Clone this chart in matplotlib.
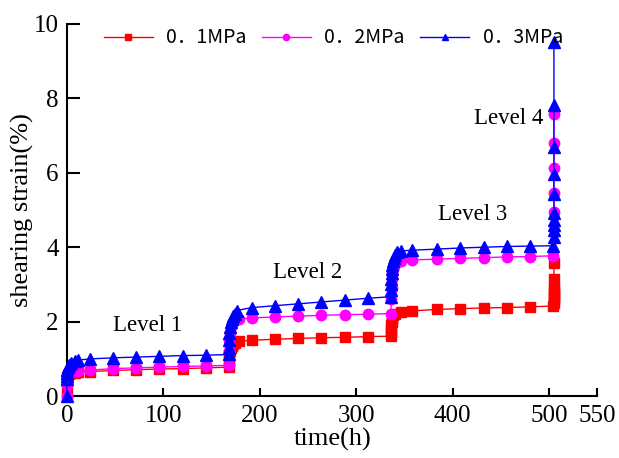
import matplotlib
matplotlib.use("Agg")
import matplotlib.pyplot as plt

plt.rcParams['font.family'] = ['Liberation Serif', 'DejaVu Serif']

# ---- 0.1MPa (red) ----
t1 = [0, 0, 0.1, 0.2, 0.5, 1, 2, 4, 8, 12, 24, 48, 72, 96, 120, 144, 168,
      168.2, 168.5, 169, 170, 171, 172, 174, 178, 192, 216, 240, 264, 288, 312, 336,
      336.1, 336.3, 336.5, 336.8, 337, 337.5, 338, 340, 346, 358, 384, 408, 432, 456, 480, 504,
      505, 505, 505, 505, 505, 505, 505, 505]
s1 = [0, 0.3, 0.4, 0.46, 0.52, 0.56, 0.59, 0.61, 0.63, 0.64, 0.66, 0.69, 0.71, 0.73, 0.74, 0.76, 0.78,
      0.95, 1.1, 1.22, 1.3, 1.36, 1.4, 1.43, 1.47, 1.5, 1.53, 1.55, 1.57, 1.58, 1.6, 1.61,
      1.7, 1.8, 1.9, 2.0, 2.07, 2.13, 2.18, 2.22, 2.26, 2.29, 2.33, 2.35, 2.37, 2.38, 2.4, 2.42,
      2.5, 2.58, 2.66, 2.74, 2.82, 2.9, 3.16, 3.57]

# ---- 0.2MPa (magenta) ----
t2 = [0, 0, 0.1, 0.2, 0.5, 1, 2, 4, 8, 12, 24, 48, 72, 96, 120, 144, 168,
      168.2, 168.5, 169, 170, 171, 172, 174, 178, 192, 216, 240, 264, 288, 312, 336,
      336.3, 336.6, 337, 337.5, 338, 339, 340, 342, 346, 358, 384, 408, 432, 456, 480, 504,
      505, 505, 505, 505, 505]
s2 = [0, 0.3, 0.4, 0.48, 0.55, 0.6, 0.63, 0.65, 0.67, 0.68, 0.7, 0.74, 0.76, 0.78, 0.8, 0.81, 0.83,
      1.2, 1.5, 1.7, 1.85, 1.95, 2.0, 2.04, 2.07, 2.1, 2.13, 2.15, 2.17, 2.19, 2.2, 2.22,
      2.6, 2.9, 3.15, 3.3, 3.42, 3.5, 3.56, 3.6, 3.63, 3.66, 3.68, 3.7, 3.72, 3.74, 3.75, 3.77,
      4.95, 5.45, 6.12, 6.81, 7.57]

# ---- 0.3MPa (blue) ----
t3 = [0, 0, 0.1, 0.2, 0.5, 1, 2, 4, 8, 12, 24, 48, 72, 96, 120, 144, 168,
      168.1, 168.2, 168.5, 169, 170, 171, 172, 174, 176, 192, 216, 240, 264, 288, 312, 336,
      336.1, 336.2, 336.4, 336.7, 337, 337.5, 338, 339, 340, 342, 346, 358, 384, 408, 432, 456, 480, 504,
      505, 505, 505, 505, 505, 505, 505, 505, 505, 505]
s3 = [0, 0.45, 0.55, 0.62, 0.7, 0.78, 0.85, 0.9, 0.95, 0.97, 1.0, 1.03, 1.05, 1.07, 1.09, 1.1, 1.12,
      1.3, 1.5, 1.7, 1.85, 1.98, 2.08, 2.15, 2.22, 2.3, 2.38, 2.43, 2.48, 2.53, 2.58, 2.63, 2.67,
      2.85, 3.0, 3.15, 3.3, 3.42, 3.53, 3.62, 3.72, 3.8, 3.87, 3.9, 3.92, 3.95, 3.98, 4.0, 4.02, 4.03, 4.04,
      4.28, 4.46, 4.6, 4.73, 4.91, 5.42, 5.98, 6.7, 7.82, 9.52]

labels = ['0．1MPa', '0．2MPa', '0．3MPa']
level_text = ['Level 1', 'Level 2', 'Level 3', 'Level 4']
level_x = [84, 250, 421, 458]
level_y = [1.9, 3.33, 4.87, 7.47]

fig = plt.figure(figsize=(6.19, 4.58), dpi=100)
ax = fig.add_axes([0.108, 0.135, 0.857, 0.813])

ax.plot(t1, s1, color='red', marker='s', ms=6.5, lw=1, label=labels[0], clip_on=False, zorder=3)
ax.plot(t2, s2, color='magenta', marker='o', ms=7.5, lw=1, label=labels[1], clip_on=False, zorder=4)
ax.plot(t3, s3, color='blue', marker='^', ms=8, lw=1, label=labels[2], clip_on=False, zorder=5)

for txt, x, y in zip(level_text, level_x, level_y):
    ax.text(x, y, txt, fontsize=16.5, ha='center', va='center')

ax.set_xlim(0, 550)
ax.set_ylim(0, 10)
ax.set_xticks([0, 100, 200, 300, 400, 500, 550])
ax.set_yticks([0, 2, 4, 6, 8, 10])
ax.spines['top'].set_visible(False)
ax.spines['right'].set_visible(False)
ax.spines['left'].set_linewidth(1.5)
ax.spines['bottom'].set_linewidth(1.5)
ax.tick_params(axis='y', direction='in', length=9, width=1.5, labelsize=18, pad=6)
ax.tick_params(axis='x', direction='in', length=6, width=1.5, labelsize=18, pad=6)

ax.set_xlabel('time(h)', fontsize=19, labelpad=1)
ax.set_ylabel('shearing strain(%)', fontsize=19, labelpad=0)

leg = ax.legend(loc='center left', bbox_to_anchor=(0.07, 0.962), ncol=3, frameon=False,
                prop={'family': ['Noto Sans CJK SC', 'DejaVu Sans'], 'size': 14},
                handlelength=2.5, handletextpad=0.7, columnspacing=0.8, markerscale=0.6,
                borderpad=0, borderaxespad=0)

fig.savefig('out.png', dpi=100)
